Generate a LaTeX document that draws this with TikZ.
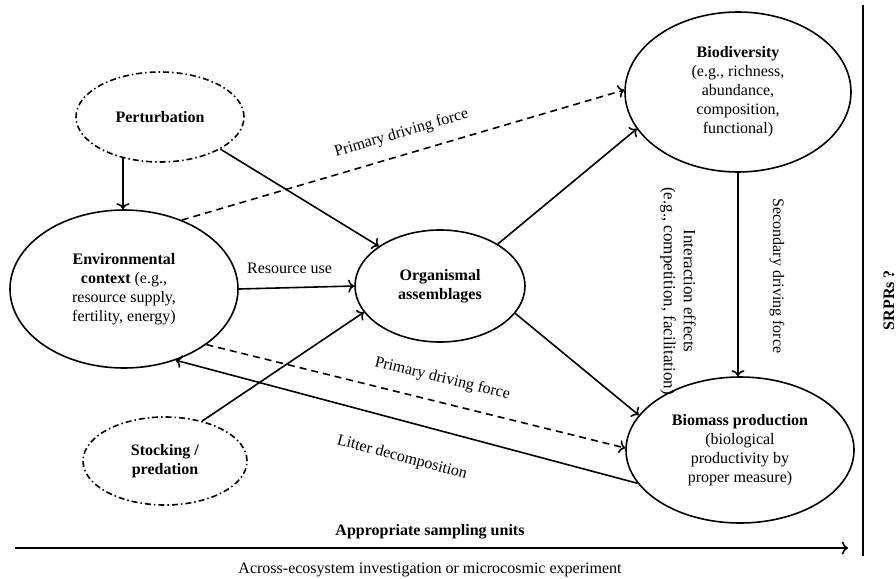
\documentclass[tikz,border=0pt]{standalone}
\usepackage{fontspec}
\setmainfont{Liberation Serif}
\usepackage{tikz}
\usetikzlibrary{shapes.geometric,arrows.meta,positioning}

\begin{document}
\begin{tikzpicture}[
    x=1pt, y=-1pt,
    blob/.style={ellipse, draw=black, line width=1.6pt, inner sep=0pt, align=center, font=\fontsize{16}{19}\selectfont},
    ext/.style={blob, dash pattern=on 6pt off 3pt on 1.5pt off 3pt},
    arr/.style={-{To[length=6pt,width=13pt]}, line width=1.6pt},
    darr/.style={arr, dash pattern=on 7pt off 5pt},
    lbl/.style={font=\fontsize{16}{19}\selectfont, inner sep=0pt},
  ]
    \useasboundingbox (0,0) rectangle (896,578);

    \node[ext, minimum width=168pt, minimum height=90pt] (pert) at (160,117) {\textbf{Perturbation}};
    \node[blob, minimum width=228pt, minimum height=158pt] (env) at (124,289) {\textbf{Environmental}\\\textbf{context} (e.g.,\\resource supply,\\fertility, energy)};
    \node[blob, minimum width=170pt, minimum height=112pt] (org) at (440,286) {\textbf{Organismal}\\\textbf{assemblages}};
    \node[blob, minimum width=226pt, minimum height=160pt] (biod) at (738,92) {\textbf{Biodiversity}\\(e.g., richness,\\abundance,\\composition,\\functional)};
    \node[blob, minimum width=228pt, minimum height=146pt] (bmass) at (740,450) {\textbf{Biomass production}\\(biological\\productivity by\\proper measure)};
    \node[ext, minimum width=164pt, minimum height=88pt] (stock) at (165,461) {\textbf{Stocking /}\\\textbf{predation}};

    % Drivers
    \draw[arr] (pert.228) -- (pert.228 |- env.north);
    \draw[arr] (pert.-28) -- (org.147);
    \draw[arr] (stock.47) -- (org.199);
    \draw[arr] (env.east) -- node[lbl, above=13pt, pos=0.44] {Resource use} (org.west);

    % Primary driving forces
    \draw[darr] (env.50) -- node[lbl, sloped, above=13pt, pos=0.51] {Primary driving force} (biod.179);
    \draw[darr] (env.-34) -- node[lbl, sloped, above=15pt, pos=0.55] {Primary driving force} (bmass.179);

    % Assemblages to outcomes
    \draw[arr] (org.36) -- (biod.200);
    \draw[arr] (org.-20) -- (bmass.161);
    \draw[arr] (biod.south) -- (biod.south |- bmass.north);
    \draw[arr] (bmass.198) -- node[lbl, sloped, below=28pt, pos=0.49] {Litter decomposition} (env.-54);

    % Side labels
    \node[lbl, rotate=-90, align=center, font=\fontsize{17}{20}\selectfont] (inter) at (678,291) {Interaction effects\\(e.g., competition, facilitation)};
    \node[lbl, rotate=-90] (sec) at (777,276) {Secondary driving force};
    \node[lbl, rotate=90, font=\fontsize{16}{19}\selectfont\bfseries] (srpr) at (889,300) {SRPRs ?};
    \coordinate (sepT) at (863,5);
    \coordinate (sepB) at (863,556);
    \draw[line width=1.6pt] (sepT) -- (sepB);

    % Sampling scale
    \node[lbl, font=\fontsize{16}{19}\selectfont\bfseries] (units) at (430,532) {Appropriate sampling units};
    \coordinate (scaleL) at (15,548);
    \coordinate (scaleR) at (848,548);
    \draw[arr] (scaleL) -- (scaleR);
    \node[lbl] (scale) at (430,570) {Across-ecosystem investigation or microcosmic experiment};

  \end{tikzpicture}
\end{document}
